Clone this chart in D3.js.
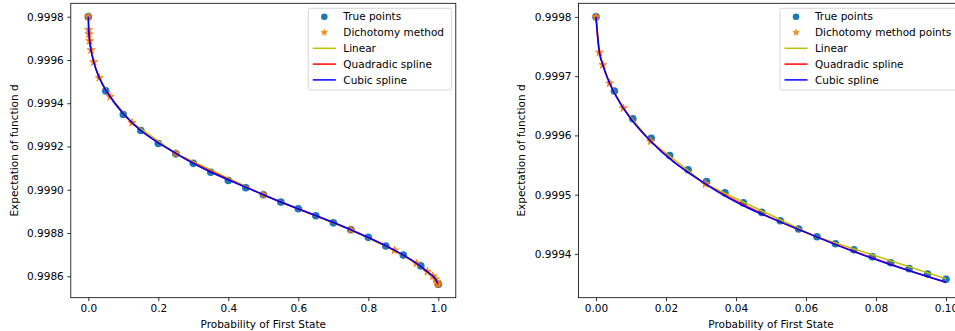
<!DOCTYPE html>
<html><head><meta charset="utf-8">
<script src="https://cdn.jsdelivr.net/npm/d3@7"></script>
<style>body{margin:0;background:#fff}svg{display:block;font-family:"DejaVu Sans",sans-serif}</style>
</head><body><svg id="c" width="955" height="331"></svg>
<script>
// ---- data ----
const dichoX = [0, 0.0009765625, 0.001953125, 0.00390625, 0.0078125, 0.015625, 0.03125, 0.0625, 0.125, 0.25, 0.5, 0.75, 0.875, 0.9375, 0.96875, 0.984375, 0.9921875, 0.99609375, 1];
const dichoY = [0.9998, 0.99974, 0.999719, 0.999688, 0.999646, 0.99959, 0.999518, 0.99943, 0.99931, 0.999168, 0.998977, 0.998815, 0.99872, 0.99866, 0.998621, 0.998601, 0.998586, 0.998575, 0.998563];

const leftTrueX = [0, 0.05, 0.1, 0.15, 0.2, 0.25, 0.3, 0.35, 0.4, 0.45, 0.5, 0.55, 0.6, 0.65, 0.7, 0.75, 0.8, 0.85, 0.9, 0.95, 1.0];
const leftTrueY = [0.9998, 0.999457, 0.999348, 0.999274, 0.999214, 0.999166, 0.999122, 0.999081, 0.999043, 0.999009, 0.998977, 0.998943, 0.998912, 0.99888, 0.998847, 0.998815, 0.99878, 0.99874, 0.998698, 0.998648, 0.998563];

const rightTrueX = [0, 0.005263, 0.010526, 0.015789, 0.021053, 0.026316, 0.031579, 0.036842, 0.042105, 0.047368, 0.052632, 0.057895, 0.063158, 0.068421, 0.073684, 0.078947, 0.084211, 0.089474, 0.094737, 0.1];
const rightTrueY = [0.9998, 0.999675, 0.999628, 0.999595, 0.999566, 0.999542, 0.999522, 0.999503, 0.999486, 0.99947, 0.999456, 0.999442, 0.999429, 0.999417, 0.999407, 0.999395, 0.999385, 0.999375, 0.999366, 0.999357];
const rightStarCount = 7;

const leftXTicks = [0, 0.2, 0.4, 0.6, 0.8, 1.0];
const leftYTicks = [0.9986, 0.9988, 0.9990, 0.9992, 0.9994, 0.9996, 0.9998];
const rightXTicks = [0, 0.02, 0.04, 0.06, 0.08, 0.10];
const rightYTicks = [0.9994, 0.9995, 0.9996, 0.9997, 0.9998];

const leftLegend = ["True points", "Dichotomy method", "Linear", "Quadradic spline", "Cubic spline"];
const rightLegend = ["True points", "Dichotomy method points", "Linear", "Quadradic spline", "Cubic spline"];
const xLabel = "Probability of First State";
const yLabel = "Expectation of function d";

const C_TRUE = "#1f77b4", C_STAR = "#ff7f0e", C_LIN = "#bfbf00", C_QUAD = "#ff0000", C_CUB = "#0000ff";

const svg = d3.select("#c");

function panel(o) {
  const x = d3.scaleLinear().domain(o.xDom).range([o.L, o.R]);
  const y = d3.scaleLinear().domain(o.yDom).range([o.B, o.T]);
  const g = svg.append("g");
  const clipId = "clip" + o.id;
  svg.append("clipPath").attr("id", clipId).append("rect")
    .attr("x", x(o.lineMin) - 1).attr("y", o.T).attr("width", x(o.lineMax) - x(o.lineMin) + 1).attr("height", o.B - o.T);

  // true points
  const tp = o.trueX.map((d, i) => [d, o.trueY[i]]);
  g.append("g").selectAll("circle").data(tp).join("circle")
    .attr("cx", d => x(d[0])).attr("cy", d => y(d[1])).attr("r", 3.8).attr("fill", C_TRUE);
  // dichotomy stars
  const st = dichoX.map((d, i) => [d, dichoY[i]]).slice(0, o.starCount);
  const star = d3.symbol(d3.symbolStar, 20);
  g.append("g").selectAll("path").data(st).join("path")
    .attr("d", star).attr("transform", d => `translate(${x(d[0])},${y(d[1])})`)
    .attr("fill", C_STAR).attr("stroke", C_STAR).attr("stroke-width", 0.8).attr("stroke-linejoin", "round");
  // lines
  const knots = dichoX.map((d, i) => [d, dichoY[i]]);
  const lg = g.append("g").attr("clip-path", `url(#${clipId})`).attr("fill", "none").attr("stroke-width", 1.5);
  lg.append("path").attr("d", d3.line().x(d => x(d[0])).y(d => y(d[1])).curve(d3.curveLinear)(knots)).attr("stroke", C_LIN);
  lg.append("path").attr("d", d3.line().x(d => x(d[0])).y(d => y(d[1])).curve(d3.curveCatmullRom.alpha(0.5))(knots)).attr("stroke", C_QUAD);
  lg.append("path").attr("d", d3.line().x(d => x(d[0])).y(d => y(d[1])).curve(d3.curveMonotoneX)(knots)).attr("stroke", C_CUB);

  // axes
  const ax = svg.append("g").attr("transform", `translate(0,${o.B})`)
    .call(d3.axisBottom(x).tickValues(o.xTicks).tickFormat(d3.format(o.xFmt)).tickSize(3.5).tickPadding(3.5));
  const ay = svg.append("g").attr("transform", `translate(${o.L},0)`)
    .call(d3.axisLeft(y).tickValues(o.yTicks).tickFormat(d3.format(".4f")).tickSize(3.5).tickPadding(3.5));
  [ax, ay].forEach(a => {
    a.select(".domain").remove();
    a.selectAll("line").attr("stroke", "#000").attr("stroke-width", 0.8);
    a.selectAll("text").attr("font-size", "10.5px").attr("fill", "#000").attr("font-family", "DejaVu Sans");
  });
  // frame
  svg.append("rect").attr("x", o.L).attr("y", o.T).attr("width", o.R - o.L).attr("height", o.B - o.T)
    .attr("fill", "none").attr("stroke", "#000").attr("stroke-width", 0.8);

  // labels
  svg.append("text").attr("x", (o.L + o.R) / 2).attr("y", 324).attr("dy", "0.35em")
    .attr("text-anchor", "middle").attr("font-size", "10.5px").text(xLabel);
  svg.append("text").attr("transform", `translate(${o.yLabX},${(o.T + o.B) / 2}) rotate(-90)`).attr("dy", "0.35em")
    .attr("text-anchor", "middle").attr("font-size", "10.5px").text(yLabel);

  // legend
  const leg = svg.append("g");
  leg.append("rect").attr("x", o.legX).attr("y", 8.3).attr("width", o.legW).attr("height", 81.7)
    .attr("rx", 2).attr("fill", "#fff").attr("fill-opacity", 0.8).attr("stroke", "#cccccc").attr("stroke-width", 0.8);
  const rowY = i => 16.7 + i * 15.8;
  const mx = o.legX + 16, l0 = o.legX + 4.5, l1 = o.legX + 27.5, tx = o.legX + 35;
  leg.append("circle").attr("cx", mx).attr("cy", rowY(0)).attr("r", 3.3).attr("fill", C_TRUE);
  leg.append("path").attr("d", d3.symbol(d3.symbolStar, 13)).attr("transform", `translate(${mx},${rowY(1)})`)
    .attr("fill", C_STAR).attr("stroke", C_STAR).attr("stroke-width", 0.6);
  [C_LIN, C_QUAD, C_CUB].forEach((c, k) => {
    leg.append("line").attr("x1", l0).attr("x2", l1).attr("y1", rowY(k + 2)).attr("y2", rowY(k + 2))
      .attr("stroke", c).attr("stroke-width", 1.5);
  });
  o.legend.forEach((t, i) => {
    leg.append("text").attr("x", tx).attr("y", rowY(i)).attr("dy", "0.35em").attr("font-size", "10.5px").attr("fill", "#000").text(t);
  });
}

panel({id: "L", L: 70.8, R: 455.8, T: 3.3, B: 297.7, xDom: [-0.05, 1.05], yDom: [0.998501, 0.999862],
  xTicks: leftXTicks, yTicks: leftYTicks, xFmt: ".1f", trueX: leftTrueX, trueY: leftTrueY,
  starCount: dichoX.length, lineMin: 0, lineMax: 1, legend: leftLegend, legX: 308.3, legW: 143.4, yLabX: 14.2});
panel({id: "R", L: 578.5, R: 963.5, T: 3.3, B: 297.7, xDom: [-0.005, 0.105], yDom: [0.999326, 0.999823],
  xTicks: rightXTicks, yTicks: rightYTicks, xFmt: ".2f", trueX: rightTrueX, trueY: rightTrueY,
  starCount: rightStarCount, lineMin: 0, lineMax: 0.1, legend: rightLegend, legX: 780, legW: 179.5, yLabX: 521.8});
</script></body></html>
